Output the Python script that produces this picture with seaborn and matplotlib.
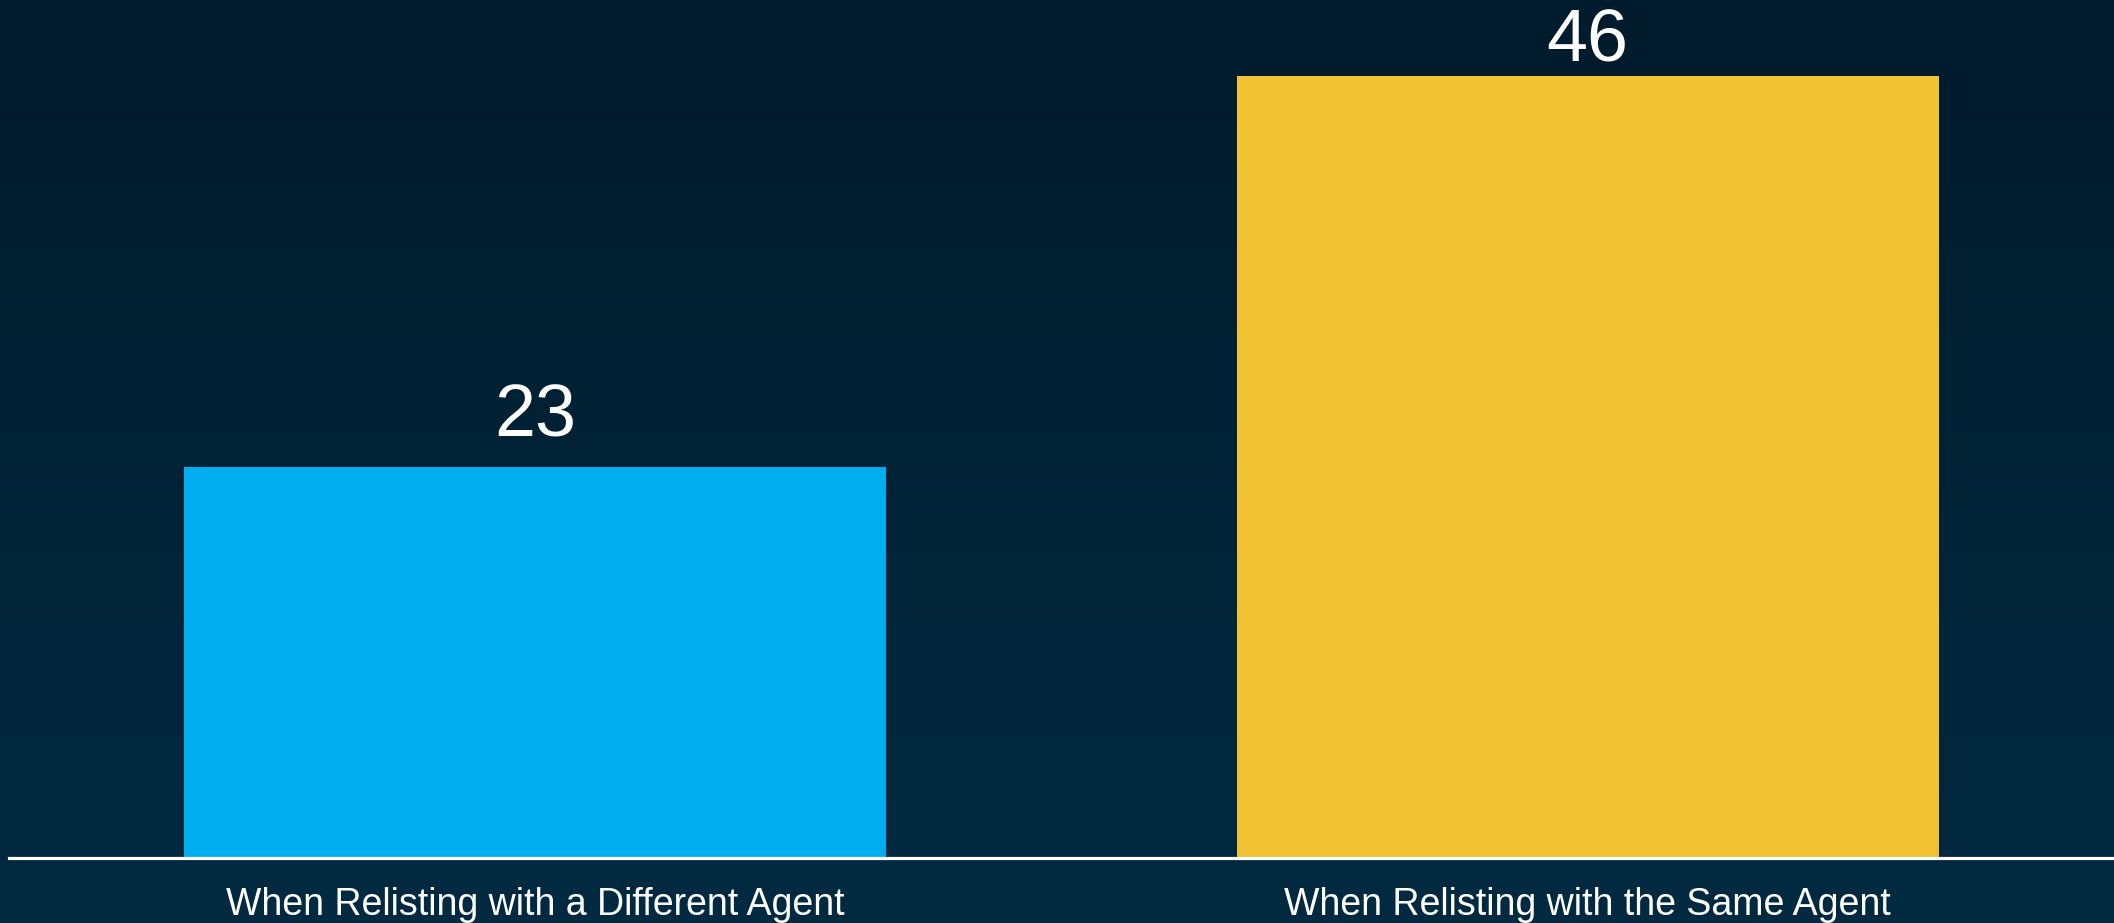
import numpy as np
import pandas as pd
import matplotlib
matplotlib.use("Agg")
import matplotlib.pyplot as plt
import seaborn as sns

categories = ["When Relisting with a Different Agent", "When Relisting with the Same Agent"]
values = [23, 46]
bar_colors = ["#00aeef", "#f1c232"]

sns.set_theme(style="white")
plt.rcParams["font.family"] = ["Liberation Sans", "DejaVu Sans"]

W, H, DPI = 2114, 923, 100
fig = plt.figure(figsize=(W / DPI, H / DPI), dpi=DPI)

# vertical gradient background
bg = fig.add_axes([0, 0, 1, 1], zorder=-10)
top = np.array([0x00, 0x1b, 0x2b]) / 255
bottom = np.array([0x02, 0x2a, 0x41]) / 255
t = np.linspace(0, 1, 256)[:, None]
grad = (top[None, :] * (1 - t) + bottom[None, :] * t)[:, None, :]
bg.imshow(grad, aspect="auto", extent=[0, 1, 0, 1], origin="upper")
bg.axis("off")

base_y = (H - 858) / H
ax = fig.add_axes([9 / W, base_y, 1 - 9 / W, 1 - base_y])
ax.patch.set_alpha(0)

df = pd.DataFrame({"category": categories, "value": values})
sns.barplot(data=df, x="category", y="value", hue="category",
            palette=bar_colors, width=0.667, saturation=1,
            legend=False, linewidth=0, edgecolor="none", ax=ax)

ax.set_xlim(-0.5, 1.5)
ax.set_ylim(0, 50.5)
ax.set_xlabel("")
ax.set_ylabel("")
ax.set_yticks([])
for s in ["top", "left", "right"]:
    ax.spines[s].set_visible(False)
ax.spines["bottom"].set_color("white")
ax.spines["bottom"].set_linewidth(2.3)
ax.spines["bottom"].set_zorder(5)
ax.tick_params(axis="x", length=0, pad=21, labelsize=27, labelcolor="white")

# the tallest bar's label sits closer to its bar so it stays inside the figure
label_pads = [11, 0]
for container, pad in zip(ax.containers, label_pads):
    ax.bar_label(container, labels=[f"{int(round(v))}" for v in container.datavalues],
                 padding=pad, fontsize=53, color="white")

fig.savefig("out.png", dpi=DPI, facecolor=fig.get_facecolor())
